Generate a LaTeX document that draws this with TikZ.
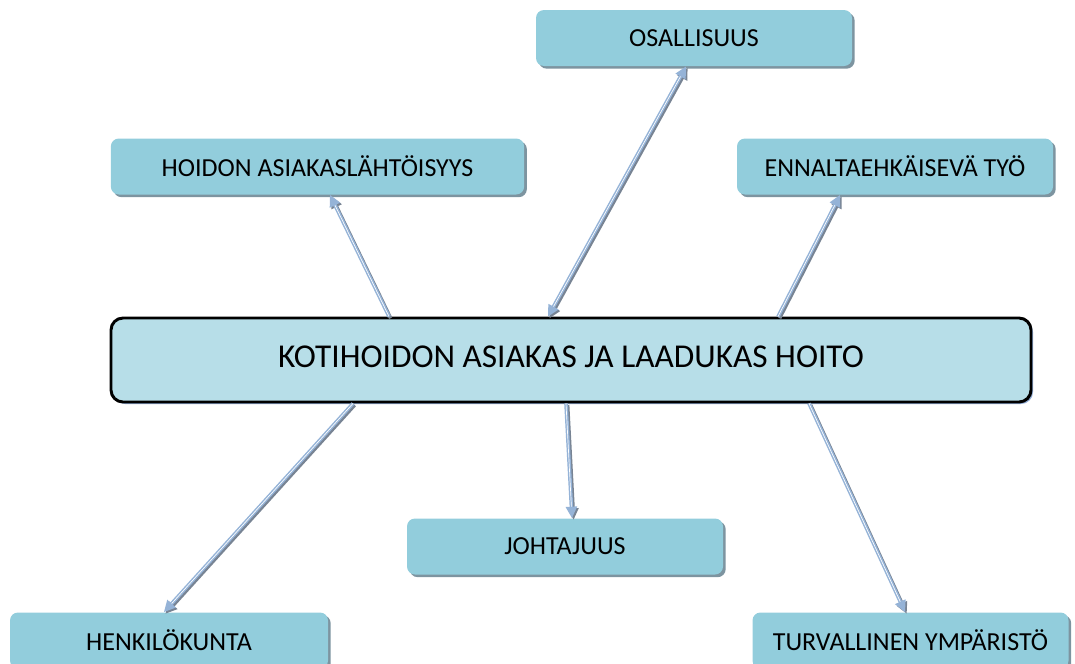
\documentclass[tikz,border=0pt]{standalone}
\usepackage{fontspec}
\setmainfont{Carlito}
\usetikzlibrary{arrows.meta,shadows}

\definecolor{boxfill}{RGB}{146,205,220}
\definecolor{hubfill}{RGB}{183,222,232}
\definecolor{boxshade}{RGB}{125,148,160}
\definecolor{hubshade}{RGB}{142,169,210}
\definecolor{linkblue}{RGB}{149,179,215}
\definecolor{linkshade}{RGB}{120,132,148}

\tikzset{every picture/.style={line width=0.75pt}}
\tikzset{
  topic/.style={rounded corners=6pt, fill=boxfill, minimum width=237pt, minimum height=42pt, inner sep=0pt,
    font=\fontsize{19.5}{22}\selectfont,
    drop shadow={shadow xshift=2pt, shadow yshift=-2pt, fill=boxshade, opacity=1}},
  hub/.style={rounded corners=9pt, fill=hubfill, draw=black, line width=2.2pt, minimum width=690pt, minimum height=63pt, inner sep=0pt,
    font=\fontsize{25}{28}\selectfont,
    drop shadow={shadow xshift=1.5pt, shadow yshift=-1.5pt, fill=hubshade, opacity=1}},
  link/.style={draw=linkblue, line width=1.1pt, double=white, double distance=0.5pt,
    -{Triangle[length=8.5pt,width=8.5pt]},
    preaction={draw=linkshade, double=linkshade, transform canvas={shift={(1.2pt,-1.2pt)}}}},
  bilink/.style={link, {Triangle[length=8.5pt,width=8.5pt]}-{Triangle[length=8.5pt,width=8.5pt]}},
}

\begin{document}
\begin{tikzpicture}[x=0.75pt,y=0.75pt,yscale=-1,xscale=1]
\useasboundingbox (0,0) rectangle (1075,664);

% Boxes
\node [hub] (hub) at (571,360) {\raisebox{5.5pt}{KOTIHOIDON ASIAKAS JA LAADUKAS HOITO}};
\node [topic] (osallisuus) at (694,38) {OSALLISUUS};
\node [topic, minimum width=310pt] (asiakaslahtoisyys) at (317.5,166.5) {HOIDON ASIAKASLÄHTÖISYYS};
\node [topic] (ennaltaehkaisy) at (895,166.5) {ENNALTAEHKÄISEVÄ TYÖ};
\node [topic] (johtajuus) at (565,546.5) {JOHTAJUUS};
\node [topic, minimum width=238.5pt] (henkilokunta) at (169,640.5) {HENKILÖKUNTA};
\node [topic] (ymparisto) at (910.5,640.5) {TURVALLINEN YMPÄRISTÖ};

% Connectors up
\draw [link] ([xshift=-136.5pt]hub.north) -- ([xshift=9.4pt]asiakaslahtoisyys.south);
\draw [bilink] ([xshift=-17.25pt]hub.north) -- ([xshift=-6pt]osallisuus.south);
\draw [link] ([xshift=155.25pt]hub.north) -- ([xshift=-41.25pt]ennaltaehkaisy.south);

% Connectors down
\draw [link] ([xshift=-163.5pt]hub.south) -- ([xshift=-3.75pt]henkilokunta.north);
\draw [link] ([xshift=-3.75pt]hub.south) -- ([xshift=5.25pt]johtajuus.north);
\draw [link] ([xshift=178.5pt]hub.south) -- ([xshift=-4.1pt]ymparisto.north);

\end{tikzpicture}
\end{document}
